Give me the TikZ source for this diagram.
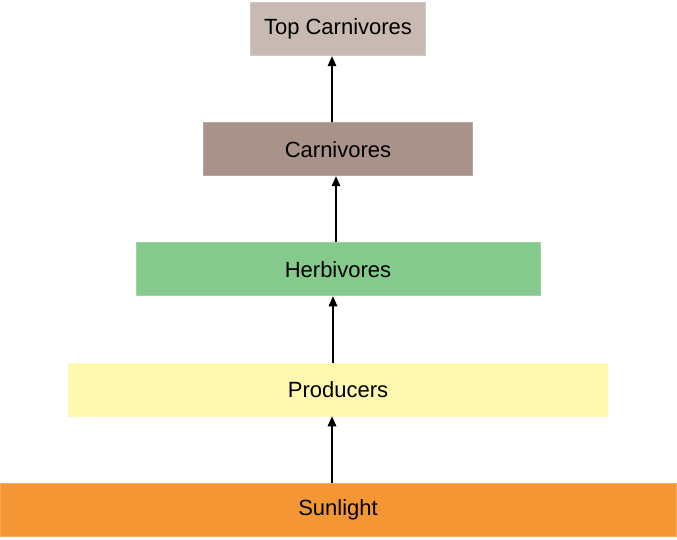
\documentclass[tikz,border=0pt]{standalone}
\usepackage{fontspec}
\setmainfont{Liberation Sans}
\definecolor{SunOrange}{RGB}{245, 150, 52}
\definecolor{ProdYellow}{RGB}{255, 248, 175}
\definecolor{HerbGreen}{RGB}{133, 201, 141}
\definecolor{CarnBrown}{RGB}{168, 146, 137}
\definecolor{TopTaupe}{RGB}{200, 186, 178}
\usetikzlibrary{arrows.meta, positioning}

\begin{document}
\begin{tikzpicture}[node distance=49.7pt, font=\fontsize{16.5}{19}\selectfont,
  lvl/.style={rectangle, inner sep=0pt, minimum height=39.75pt, line width=0.6pt},
  ar/.style={-{Triangle[length=7.5pt, width=6.5pt]}, line width=0.9pt, black}]
\useasboundingbox (0,0) rectangle (507.75pt,404.25pt);
\node[lvl, fill=SunOrange, draw=SunOrange!80!white, minimum width=507pt] (sun) at (253.5pt,22.1pt) {Sunlight};
\node[lvl, fill=ProdYellow, draw=ProdYellow!80!white, minimum width=404.25pt, above=of sun] (prod) {Producers};
\node[lvl, fill=HerbGreen, draw=HerbGreen!80!white, minimum width=303pt, above=of prod] (herb) {Herbivores};
\node[lvl, fill=CarnBrown, draw=CarnBrown!80!white, minimum width=201.75pt, above=of herb] (carn) {Carnivores};
\node[lvl, fill=TopTaupe, draw=TopTaupe!80!white, minimum width=131.25pt, above=of carn] (top) {Top Carnivores};
\draw[ar] ([xshift=-4.5pt]sun.north) -- ([xshift=-4.5pt]prod.south);
\draw[ar] ([xshift=-3.75pt]prod.north) -- ([xshift=-3.75pt]herb.south);
\draw[ar] ([xshift=-1.5pt]herb.north) -- ([xshift=-1.5pt]carn.south);
\draw[ar] ([xshift=-4.5pt]carn.north) -- ([xshift=-4.5pt]top.south);
\end{tikzpicture}
\end{document}
